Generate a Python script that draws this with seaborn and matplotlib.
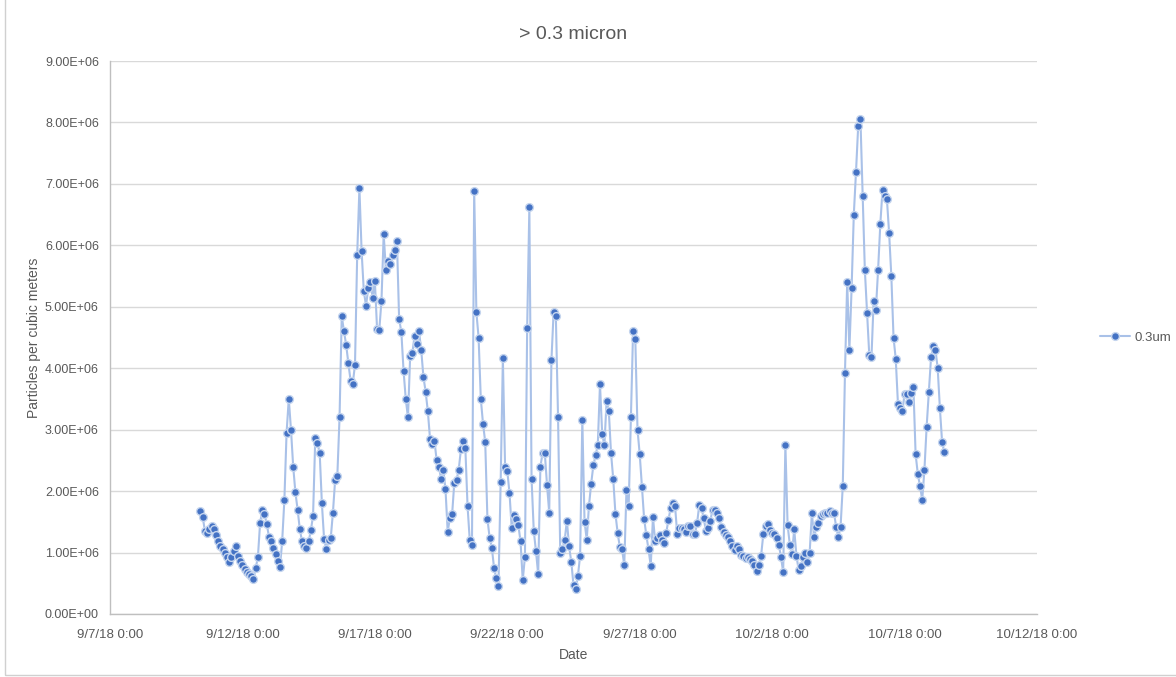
import numpy as np
import pandas as pd
import matplotlib
matplotlib.use('Agg')
import matplotlib.pyplot as plt
import matplotlib.dates as mdates
from matplotlib.patches import Rectangle
from matplotlib.ticker import FuncFormatter, MultipleLocator
import seaborn as sns

# readings every 2 hours starting 9/10/18 10:00 (millions of particles per m3)
start = '2018-09-10 10:00'
week1 = [1.67, 1.58, 1.35, 1.32, 1.38, 1.44, 1.38, 1.28, 1.18, 1.11, 1.05, 0.99,
         0.92, 0.84, 0.92, 1.03, 1.11, 0.95, 0.87, 0.80, 0.74, 0.69, 0.65, 0.62,
         0.57, 0.75, 0.92, 1.48, 1.69, 1.62, 1.47, 1.26, 1.18, 1.07, 0.98, 0.87,
         0.76, 1.18, 1.85, 2.95, 3.50, 3.00, 2.40, 1.98, 1.70, 1.38, 1.18, 1.10,
         1.07, 1.18, 1.36, 1.60, 2.86, 2.78, 2.62, 1.80, 1.22, 1.06, 1.20, 1.23,
         1.65, 2.18, 2.25, 3.20, 4.85, 4.60, 4.38, 4.08, 3.80, 3.75, 4.06, 5.85,
         6.93, 5.90, 5.25, 5.02, 5.30, 5.40, 5.15, 5.42, 4.64, 4.62, 5.10, 6.18,
         5.60, 5.74]
week2 = [5.70, 5.85, 5.92, 6.07, 4.80, 4.59, 3.96, 3.50, 3.20, 4.20, 4.25, 4.53,
         4.40, 4.60, 4.30, 3.86, 3.62, 3.30, 2.85, 2.77, 2.82, 2.50, 2.40, 2.20,
         2.35, 2.03, 1.34, 1.56, 1.62, 2.14, 2.18, 2.35, 2.68, 2.82, 2.70, 1.75,
         1.20, 1.12, 6.89, 4.91, 4.50, 3.50, 3.10, 2.80, 1.55, 1.24, 1.08, 0.75,
         0.58, 0.46, 2.15, 4.16, 2.40, 2.33, 1.97, 1.40, 1.61, 1.55, 1.45, 1.18,
         0.55, 0.93, 4.65, 6.62, 2.20, 1.35, 1.02, 0.65, 2.40, 2.62, 2.62, 2.10,
         1.65, 4.13, 4.92, 4.85, 3.20, 1.00, 1.06, 1.20, 1.52, 1.10, 0.85, 0.47]
week3 = [0.40, 0.62, 0.95, 3.16, 1.50, 1.21, 1.76, 2.12, 2.42, 2.58, 2.75, 3.74,
         2.93, 2.75, 3.47, 3.30, 2.62, 2.20, 1.63, 1.32, 1.09, 1.05, 0.80, 2.02,
         1.76, 3.20, 4.61, 4.48, 3.00, 2.60, 2.07, 1.55, 1.28, 1.05, 0.78, 1.58,
         1.18, 1.23, 1.28, 1.20, 1.15, 1.32, 1.53, 1.72, 1.80, 1.76, 1.30, 1.40,
         1.40, 1.39, 1.34, 1.44, 1.43, 1.30, 1.30, 1.48, 1.78, 1.72, 1.56, 1.35,
         1.40, 1.52, 1.70, 1.69, 1.64, 1.56, 1.42, 1.34, 1.29, 1.25, 1.18, 1.11,
         1.04, 1.10, 1.05, 0.96, 0.95, 0.91, 0.93, 0.90, 0.86, 0.79, 0.70, 0.80]
week4 = [0.95, 1.30, 1.43, 1.46, 1.37, 1.32, 1.30, 1.24, 1.13, 0.93, 0.68, 2.75,
         1.45, 1.13, 0.98, 1.38, 0.95, 0.72, 0.78, 0.92, 0.99, 0.85, 1.00, 1.64,
         1.25, 1.41, 1.48, 1.60, 1.62, 1.65, 1.64, 1.68, 1.65, 1.65, 1.42, 1.25,
         1.42, 2.08, 3.93, 5.40, 4.30, 5.30, 6.50, 7.20, 7.95, 8.06, 6.80, 5.60,
         4.90, 4.22, 4.18, 5.10, 4.95, 5.60, 6.34, 6.90, 6.80, 6.75, 6.20, 5.50,
         4.50, 4.15, 3.42, 3.35, 3.30, 3.58, 3.58, 3.45, 3.60, 3.70, 2.60, 2.28,
         2.08, 1.86, 2.35, 3.05, 3.62, 4.18, 4.36, 4.30, 4.00, 3.35, 2.80, 2.63]

values = np.array(week1 + week2 + week3 + week4) * 1e6
times = pd.date_range(start, periods=len(values), freq='2h')
df = pd.DataFrame({'Date': times, '0.3um': values})

sns.set_theme(style='white')
plt.rcParams['font.family'] = ['Liberation Sans', 'DejaVu Sans']

GREY_TXT = '#595959'
LINE_C = '#a9c1e8'
MARK_C = '#4472c4'

fig = plt.figure(figsize=(11.76, 6.77), dpi=100)
ax = fig.add_axes([110 / 1176, 1 - 614 / 677, (1037 - 110) / 1176, (614 - 61) / 677])

sns.lineplot(data=df, x='Date', y='0.3um', ax=ax, color=LINE_C, linewidth=1.5,
             marker='o', markersize=5.6, markerfacecolor=MARK_C,
             markeredgecolor='#c5d5ee', markeredgewidth=1.0, label='0.3um')

ax.set_xlim(pd.Timestamp('2018-09-07'), pd.Timestamp('2018-10-12'))
ax.set_ylim(0, 9e6)
ax.xaxis.set_major_locator(mdates.DayLocator(bymonthday=[7, 12, 17, 22, 27, 2]))


def date_fmt(x, pos):
    d = mdates.num2date(x)
    return f"{d.month}/{d.day}/{d.year % 100} {d.hour}:{d.minute:02d}"


ax.xaxis.set_major_formatter(FuncFormatter(date_fmt))
ax.yaxis.set_major_locator(MultipleLocator(1e6))
ax.yaxis.set_major_formatter(FuncFormatter(lambda v, p: f"{v:.2E}"))

ax.grid(True, axis='y', color='#d9d9d9', linewidth=1)
ax.grid(False, axis='x')
ax.set_axisbelow(True)
for s in ['top', 'right']:
    ax.spines[s].set_visible(False)
for s in ['left', 'bottom']:
    ax.spines[s].set_color('#bfbfbf')
    ax.spines[s].set_linewidth(1)
ax.tick_params(axis='both', length=0, colors=GREY_TXT)
ax.tick_params(axis='y', pad=8, labelsize=9)
ax.tick_params(axis='x', pad=11, labelsize=9.5)

ax.set_xlabel('Date', color=GREY_TXT, fontsize=10, labelpad=5)
ax.set_ylabel('Particles per cubic meters', color=GREY_TXT, fontsize=10, labelpad=3)
ax.set_title('> 0.3 micron', color=GREY_TXT, fontsize=14, pad=16)

leg = ax.legend(loc='center left', bbox_to_anchor=(1.055, 0.5), frameon=False,
                fontsize=9.5, handlelength=2.3, handletextpad=0.3)
for t in leg.get_texts():
    t.set_color(GREY_TXT)

# thin chart-area border, cut off by the screenshot at the top and right
fig.patches.append(Rectangle((5 / 1176, 2 / 677), 1.0, 1.0, transform=fig.transFigure,
                             fill=False, edgecolor='#d0d0d0', linewidth=1))

fig.savefig('out.png', dpi=100)
